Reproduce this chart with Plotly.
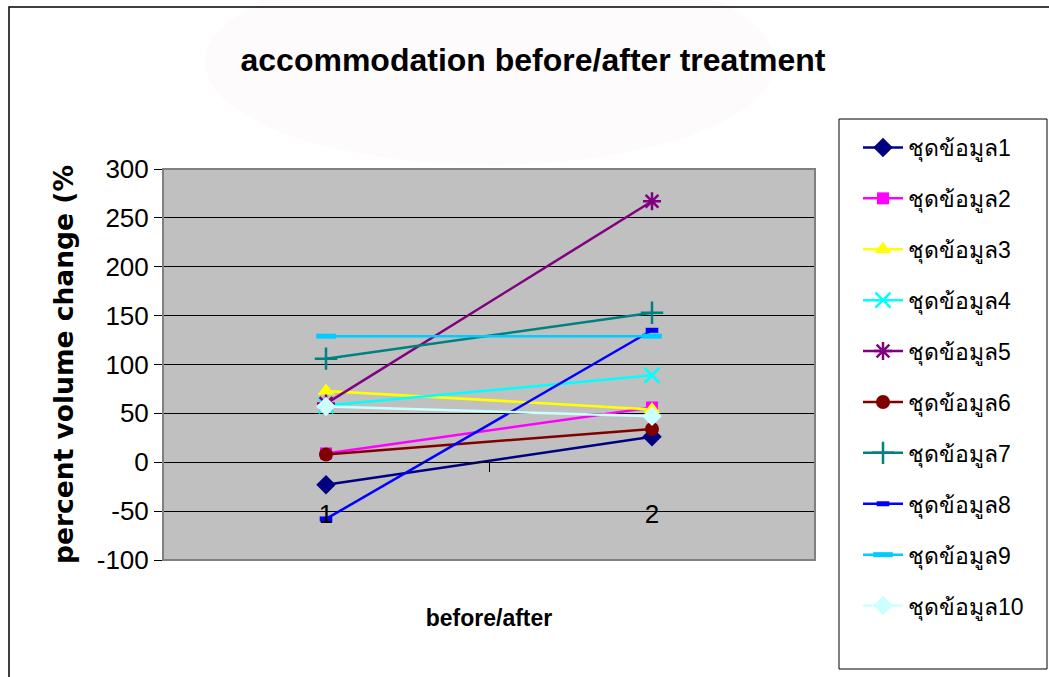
import plotly.graph_objects as go

# Measurements: percent volume change before (1) and after (2) treatment
categories = ["1", "2"]
series_names = [f"ชุดข้อมูล{i}" for i in range(1, 11)]
before = [-23, 9, 73, 58, 60, 8, 106, -58, 129, 57]
after = [26, 56, 54, 89, 267, 34, 153, 135, 129, 47]
y_ticks = [-100, -50, 0, 50, 100, 150, 200, 250, 300]
y_tick_text = ["-100", "-50", "0", "50", "100", "150", "200", "250", "300"]

colors = ["#000080", "#FF00FF", "#FFFF00", "#00FFFF", "#800080",
          "#800000", "#008080", "#0000FF", "#00CCFF", "#CCFFFF"]
symbols = ["diamond", "square", "triangle-up", "x-thin-open", "asterisk-open",
           "circle", "cross-thin-open", "line-ew-open", "line-ew-open", "diamond"]
msizes = [15, 12, 15, 15, 15, 14, 16, 9, 14, 15]
mlines = [0, 0, 0, 2.5, 2.5, 0, 2.5, 5, 5, 0]

W, H = 1049, 677
L, R, T, B = 163, 234, 169, 117
PW, PH = W - L - R, H - T - B

SANS = "Liberation Sans, Arial, sans-serif"


def px_x(p):
    return (p - L) / PW


def px_y(p):
    return (H - B - p) / PH


fig = go.Figure()
for i, name in enumerate(series_names):
    fig.add_trace(go.Scatter(
        x=categories, y=[before[i], after[i]], name=name,
        mode="lines+markers", legendgroup=name,
        line=dict(color=colors[i], width=2.5),
        marker=dict(symbol=symbols[i], size=msizes[i], color=colors[i],
                    line=dict(color=colors[i], width=mlines[i])),
    ))

tick_font = dict(family=SANS, size=26, color="black")

fig.update_layout(
    width=W, height=H,
    margin=dict(l=L, r=R, t=T, b=B, pad=0),
    paper_bgcolor="white", plot_bgcolor="#C0C0C0",
    title=dict(text="<b>accommodation before/after treatment</b>",
               x=533 / W, xanchor="center",
               y=1 - 60 / H, yanchor="middle",
               font=dict(family=SANS, size=32, color="black")),
    xaxis=dict(type="category", range=[-0.5, 1.5], tickson="boundaries",
               anchor="free", position=0.25,
               ticks="outside", ticklen=9, tickcolor="black",
               showline=True, linecolor="black", linewidth=1,
               showgrid=False, tickfont=tick_font, ticklabelstandoff=29,
               title=dict(text="<b>before/after</b>", standoff=81,
                          font=dict(family=SANS, size=23, color="black"))),
    yaxis=dict(range=[-100, 300], tickvals=y_ticks, ticktext=y_tick_text,
               ticks="outside", ticklen=8,
               tickcolor="black", showline=True, linecolor="#404040", linewidth=1,
               showgrid=True, gridcolor="black", gridwidth=1,
               zeroline=False, tickfont=tick_font,
               title=dict(text="<b>percent volume change (%</b>", standoff=15,
                          font=dict(family="DejaVu Sans, sans-serif", size=26.5, color="black"))),
    legend=dict(x=px_x(858), y=px_y(126), xanchor="left", yanchor="top",
                bgcolor="rgba(0,0,0,0)", borderwidth=0, maxheight=600,
                tracegroupgap=18, itemwidth=40,
                font=dict(family=SANS, size=23, color="black")),
    showlegend=True,
)

# faint emblem wash behind the title
fig.add_shape(type="circle", xref="paper", yref="paper", layer="below",
              x0=px_x(205), x1=px_x(775), y0=px_y(165), y1=px_y(-40),
              fillcolor="rgba(235,150,170,0.035)", line=dict(width=0))

# plot-area frame
fig.add_shape(type="rect", xref="x domain", yref="y domain", x0=0, x1=1, y0=0, y1=1,
              line=dict(color="#808080", width=2), layer="above")
# legend frame
fig.add_shape(type="rect", xref="paper", yref="paper",
              x0=px_x(839), x1=px_x(1047), y0=px_y(669), y1=px_y(119),
              line=dict(color="black", width=1))
# chart frame
fig.add_shape(type="rect", xref="paper", yref="paper",
              x0=px_x(9), x1=px_x(1100), y0=px_y(720), y1=px_y(7),
              line=dict(color="black", width=1.5))

fig.write_html("out.html")
